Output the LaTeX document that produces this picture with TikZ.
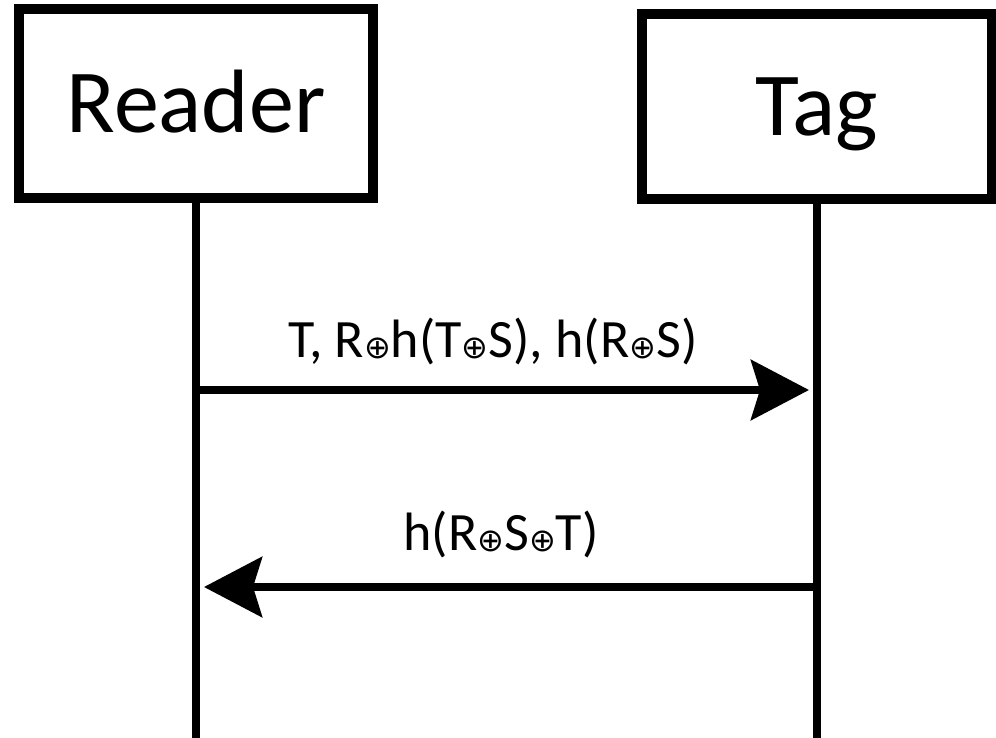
\documentclass[tikz,border=0pt]{standalone}
\usepackage{fontspec}
\setmainfont{Carlito}
\newfontfamily\symfont{DejaVu Sans}
\usetikzlibrary{arrows.meta}
% small circled plus used in the message texts
\newcommand{\xorop}{{\symfont\fontsize{32}{32}\selectfont\raisebox{-1pt}{⊕}}}
\begin{document}
\begin{tikzpicture}[x=1pt,y=-1pt,
  party/.style={draw=black,line width=10pt,fill=white,inner sep=0pt,
    font=\fontsize{90}{90}\selectfont,text height=68pt,text depth=10pt},
  lifeline/.style={line width=8pt},
  msg/.style={line width=8pt,-{Stealth[length=58pt,width=60pt,inset=9pt]}},
  msgtext/.style={font=\fontsize{54}{54}\selectfont,anchor=base,inner sep=0pt}]
  \useasboundingbox (0,0) rectangle (996,738);
  % participants
  \node[party,minimum width=354pt,minimum height=189pt] (reader) at (196,103.5) {Reader};
  \node[party,minimum width=350pt,minimum height=185pt] (tag) at (817,106.5) {Tag};
  % lifelines
  \coordinate (rend) at (reader.south |- 0,745);
  \coordinate (tend) at (tag.south |- 0,745);
  \draw[lifeline] (reader.south) -- (rend);
  \draw[lifeline] (tag.south) -- (tend);
  % message end points on the lifelines
  \coordinate (m1s) at (reader.south |- 0,390);
  \coordinate (m1e) at (809,390);
  \coordinate (m2s) at (tag.south |- 0,587);
  \coordinate (m2e) at (204,587);
  % messages
  \draw[msg] (m1s) -- (m1e);
  \node[msgtext] (l1) at (493,357) {T, R\xorop h(T\xorop S), h(R\xorop S)};
  \draw[msg] (m2s) -- (m2e);
  \node[msgtext] (l2) at (501,550) {h(R\xorop S\xorop T)};
\end{tikzpicture}
\end{document}
